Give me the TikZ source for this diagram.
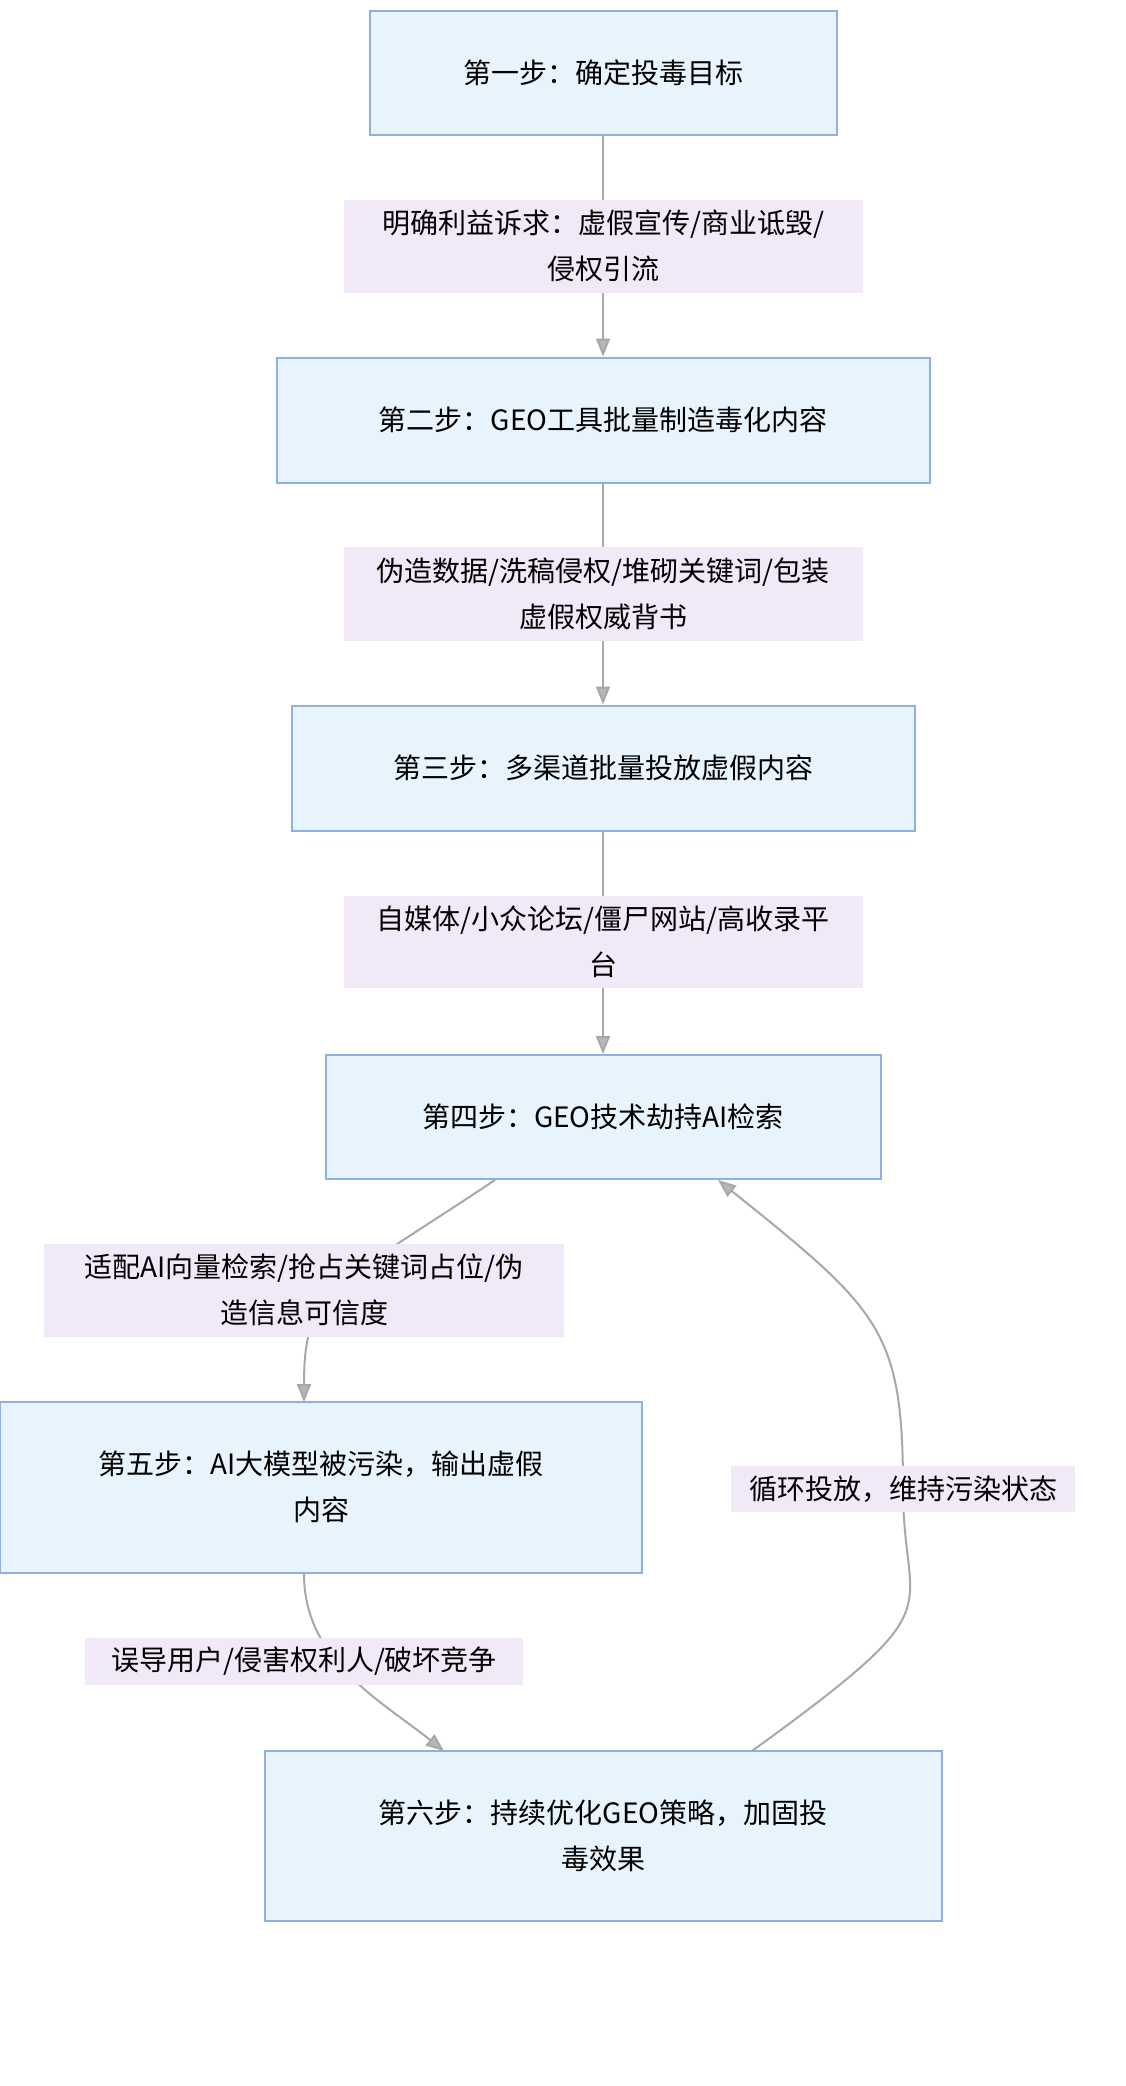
\documentclass[tikz,border=0pt]{standalone}
\usepackage{fontspec}
\setmainfont{Noto Sans CJK SC}
\usetikzlibrary{arrows.meta}
\definecolor{boxfill}{HTML}{E8F4FD}
\definecolor{boxline}{HTML}{8FB0E0}
\definecolor{lblfill}{HTML}{F1E9F8}
\definecolor{edge}{HTML}{A8A8A8}
\begin{document}
\begin{tikzpicture}[x=1pt,y=-1pt,
  box/.style={draw=boxline,line width=2pt,fill=boxfill,inner sep=0pt,align=center,font=\fontsize{28}{46}\selectfont},
  lbl/.style={fill=lblfill,inner sep=0pt,align=center,font=\fontsize{28}{46}\selectfont},
  conn/.style={draw=edge,line width=2pt,-{Triangle[length=18pt,width=14pt,fill=edge!80!black!60]}}]
\useasboundingbox[fill=white] (0,0) rectangle (1125,2086);
\node[box,minimum width=467pt,minimum height=124pt] (b1) at (603,73) {第一步：确定投毒目标};
\node[box,minimum width=653pt,minimum height=125pt] (b2) at (603,420) {第二步：GEO工具批量制造毒化内容};
\node[box,minimum width=623pt,minimum height=125pt] (b3) at (603,768) {第三步：多渠道批量投放虚假内容};
\node[box,minimum width=555pt,minimum height=124pt] (b4) at (603,1117) {第四步：GEO技术劫持AI检索};
\node[box,minimum width=642pt,minimum height=171pt] (b5) at (321,1487) {第五步：AI大模型被污染，输出虚假\\内容};
\node[box,minimum width=677pt,minimum height=170pt] (b6) at (603,1836) {第六步：持续优化GEO策略，加固投\\毒效果};
\coordinate (b4o) at (495,1180);
\coordinate (b5i) at (304,1402);
\coordinate (b5o) at (304,1574);
\coordinate (b6i) at (444,1751);
\coordinate (b6o) at (752,1751);
\coordinate (b4i) at (718,1180);
\draw[conn] (b1.south) -- (b2.north);
\draw[conn] (b2.south) -- (b3.north);
\draw[conn] (b3.south) -- (b4.north);
\draw[conn] (b4o) .. controls (330,1290) and (304,1290) .. (b5i);
\draw[conn] (b5o) .. controls (304,1660) and (380,1700) .. (b6i);
\draw[conn] (b6o) .. controls (960,1600) and (903,1620) .. (903,1489) .. controls (903,1330) and (880,1310) .. (b4i);
\node[lbl,minimum width=519pt,minimum height=93pt] (l1) at (603,246) {明确利益诉求：虚假宣传/商业诋毁/\\侵权引流};
\node[lbl,minimum width=519pt,minimum height=94pt] (l2) at (603,594) {伪造数据/洗稿侵权/堆砌关键词/包装\\虚假权威背书};
\node[lbl,minimum width=519pt,minimum height=92pt] (l3) at (603,942) {自媒体/小众论坛/僵尸网站/高收录平\\台};
\node[lbl,minimum width=520pt,minimum height=93pt] (l4) at (304,1290) {适配AI向量检索/抢占关键词占位/伪\\造信息可信度};
\node[lbl,minimum width=344pt,minimum height=46pt] (l6) at (903,1489) {循环投放，维持污染状态};
\node[lbl,minimum width=438pt,minimum height=47pt] (l5) at (304,1661) {误导用户/侵害权利人/破坏竞争};
\end{tikzpicture}
\end{document}
